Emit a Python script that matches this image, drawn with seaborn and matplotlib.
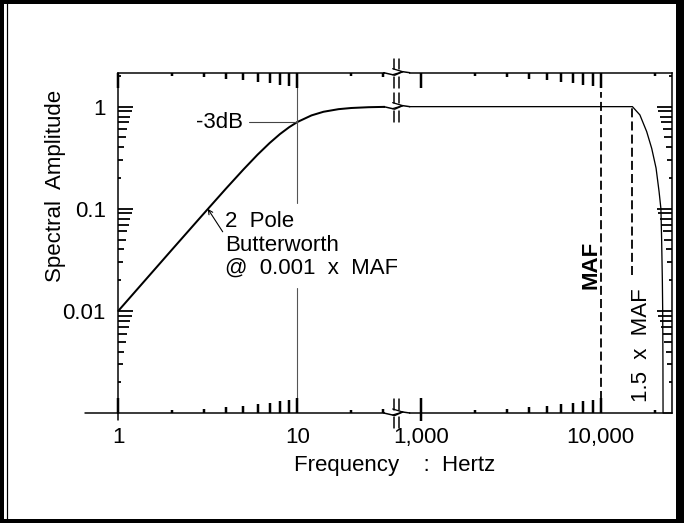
import numpy as np
import pandas as pd
import matplotlib
matplotlib.use("Agg")
import matplotlib.pyplot as plt
import seaborn as sns
from matplotlib.ticker import FixedLocator, FixedFormatter, NullLocator
from matplotlib.lines import Line2D
from matplotlib.patches import Rectangle
from matplotlib.transforms import IdentityTransform

# ---------------- data ----------------
low_freq = [1, 1.5, 2, 3, 4, 5, 6, 7, 8, 9, 10, 12, 14, 17, 20, 25, 30, 36]
low_amp = [0.01, 0.0225, 0.040, 0.0896, 0.158, 0.2425, 0.339, 0.44, 0.539,
           0.629, 0.707, 0.821, 0.891, 0.945, 0.970, 0.9875, 0.994, 0.997]
high_freq = [733, 1000, 5000, 10000, 15000, 16500, 18000, 19200, 20300,
             21100, 21600, 21800, 22000, 22100, 22170, 22200, 24800]
high_amp = [1.0, 1.0, 1.0, 1.0, 1.0, 0.83, 0.57, 0.39, 0.25,
            0.147, 0.1, 0.05, 0.02, 0.01, 0.003, 0.001, 0.001]

MAF = 10000
cutoff = 10
x_low_range = (1, 35.9)
x_high_range = (733, 24800)
y_range = (0.001, 2.15)

x_major_low = [1, 10]
x_major_low_labels = ["1", "10"]
x_minor_low = [2, 3, 4, 5, 6, 7, 8, 9, 20, 30]
x_major_high = [1000, 10000]
x_major_high_labels = ["1,000", "10,000"]
x_minor_high = [2000, 3000, 4000, 5000, 6000, 7000, 8000, 9000, 20000]
y_major = [0.01, 0.1, 1]
y_major_labels = ["0.01", "0.1", "1"]
y_minor = [k * 10.0 ** e for e in (-3, -2, -1, 0) for k in range(2, 10)
           if k * 10.0 ** e < 2.15]

# ---------------- figure ----------------
sns.set_theme(style="white")
plt.rcParams["font.family"] = ["Liberation Sans", "DejaVu Sans"]
DPI = 100
W, H = 684, 523
fig = plt.figure(figsize=(W / DPI, H / DPI), dpi=DPI)
PX = 72.0 / DPI  # points per pixel
ident = IdentityTransform()


def fx(px):
    return px / W


def fy(py_top):
    return 1 - py_top / H


ax_top, ax_bot = 72.7, 413.0
x_left, x_break, x_right = 118.3, 396.7, 671.7
AX_H = ax_bot - ax_top
axL = fig.add_axes([fx(x_left), fy(ax_bot), fx(x_break - x_left), AX_H / H])
axR = fig.add_axes([fx(x_break), fy(ax_bot), fx(x_right - x_break), AX_H / H])

low = pd.DataFrame({"freq": low_freq, "amp": low_amp})
high = pd.DataFrame({"freq": high_freq, "amp": high_amp})

for ax in (axL, axR):
    ax.set_xscale("log")
    ax.set_yscale("log")
    ax.set_facecolor("white")
    for s in ax.spines.values():
        s.set_color("black")
        s.set_linewidth(1.5 * PX)

sns.lineplot(data=low, x="freq", y="amp", ax=axL, color="black",
             linewidth=2.0 * PX, estimator=None, sort=False, clip_on=False)
sns.lineplot(data=high, x="freq", y="amp", ax=axR, color="black",
             linewidth=1.3 * PX, estimator=None, sort=False, clip_on=False)

axL.set_xlim(*x_low_range)
axR.set_xlim(*x_high_range)
axL.set_ylim(*y_range)
axR.set_ylim(*y_range)
axL.spines["right"].set_visible(False)
axR.spines["left"].set_visible(False)
for ax in (axL, axR):
    ax.set_xlabel("")
    ax.set_ylabel("")

FS = 16
MAJ_PX = 15.0
XTICK_PX = 2.5
YTICK_PX = 1.8


def mantissa(v):
    e = np.floor(np.log10(v) + 1e-9)
    return v / 10 ** e


for ax in (axL, axR):
    ax.tick_params(which="both", direction="in", length=0, labelsize=FS,
                   labelcolor="black", bottom=True, top=False)
    ax.tick_params(axis="x", which="major", pad=10)
    ax.xaxis.set_minor_locator(NullLocator())
    ax.yaxis.set_minor_locator(NullLocator())

axL.xaxis.set_major_locator(FixedLocator(x_major_low))
axL.xaxis.set_major_formatter(FixedFormatter(x_major_low_labels))
axR.xaxis.set_major_locator(FixedLocator(x_major_high))
axR.xaxis.set_major_formatter(FixedFormatter(x_major_high_labels))
axL.yaxis.set_major_locator(FixedLocator(y_major))
axL.yaxis.set_major_formatter(FixedFormatter(y_major_labels))
axL.tick_params(axis="y", left=True, right=False, labelleft=True, pad=9)
axR.yaxis.set_major_locator(NullLocator())
axR.tick_params(axis="y", left=False, right=False, labelleft=False)


def tick_len(v, major):
    return MAJ_PX if major else 1.5 * mantissa(v)


# tick marks: one segment per tick, positioned with the axes' own transforms
def draw_xticks(ax, majors, minors, below=()):
    locs = list(majors) + list(minors)
    tr = ax.get_xaxis_transform()
    for i, v in enumerate(locs):
        L = tick_len(v, i < len(majors)) / AX_H
        low_end = -8.0 / AX_H if v in below else 0.0
        ax.vlines([v, v], [low_end, 1.0 - L], [L, 1.0], transform=tr,
                  colors="black", linewidths=XTICK_PX * PX, clip_on=False,
                  zorder=5)


def draw_yticks(ax, majors, minors, side, width_px):
    locs = list(majors) + list(minors)
    tr = ax.get_yaxis_transform()
    for i, v in enumerate(locs):
        L = tick_len(v, i < len(majors)) / width_px
        a, b = (0.0, L) if side == "left" else (1.0 - L, 1.0)
        ax.add_line(Line2D([a, b], [v, v], transform=tr, color="black",
                           lw=YTICK_PX * PX, clip_on=False, zorder=5,
                           solid_capstyle="butt"))


draw_xticks(axL, x_major_low, x_minor_low)
draw_xticks(axR, x_major_high, x_minor_high, below=(1000,))
draw_yticks(axL, y_major, y_minor, "left", x_break - x_left)
draw_yticks(axR, y_major, y_minor, "right", x_right - x_break)
axL.set_xlim(*x_low_range)
axR.set_xlim(*x_high_range)
axL.set_ylim(*y_range)
axR.set_ylim(*y_range)

# extensions of axis lines
axL.plot([-0.12, 0], [0, 0], transform=axL.transAxes, color="black",
         lw=1.5 * PX, clip_on=False)
axL.plot([0, 0], [-0.02, 0], transform=axL.transAxes, color="black",
         lw=1.5 * PX, clip_on=False)

# -3 dB marker line and cutoff line
axL.plot([5.37, cutoff], [0.707, 0.707], color="#444444", lw=1.1 * PX)
axL.plot([cutoff, cutoff], [0.114, y_range[1]], color="#555555", lw=1.1 * PX)
axL.plot([cutoff, cutoff], [y_range[0], 0.0167], color="#555555", lw=1.1 * PX)
axL.text(4.95, 0.707, "-3dB", ha="right", va="center", fontsize=FS, color="black")

# Butterworth annotation
axL.annotate("", xy=(3.16, 0.1), xytext=(3.83, 0.0595),
             arrowprops=dict(arrowstyle="->", color="black", lw=1.1 * PX,
                             shrinkA=0, shrinkB=0, mutation_scale=8))
for txt, yy in (("2  Pole", 0.0758), ("Butterworth", 0.044), ("@  0.001  x  MAF", 0.0262)):
    axL.text(3.95, yy, txt, ha="left", va="center", fontsize=FS, color="black")

# MAF lines
axR.plot([MAF, MAF], [0.00133, 1.39], color="black", lw=1.8 * PX,
         linestyle=(0, (5.0, 2.3)))
axR.plot([1.5 * MAF, 1.5 * MAF], [0.0224, 1.0], color="black", lw=1.8 * PX,
         linestyle=(0, (5.0, 2.3)))
axR.text(8838, 0.0281, "MAF", rotation=90, ha="center", va="center",
         fontsize=FS, fontweight="bold", color="black")
axR.text(16750, 0.00461, "1.5  x  MAF", rotation=90, ha="center", va="center",
         fontsize=FS, color="black")

# axis titles
fig.text(fx(56), fy(186), "Spectral  Amplitude", rotation=90, ha="center",
         va="center", fontsize=FS, color="black")
fig.text(fx(395), fy(466), "Frequency    :  Hertz", ha="center", va="center",
         fontsize=FS, color="black")


# ---------------- break marks ----------------
def pline(xs, ys, lw=1.0, z=30):
    fig.add_artist(Line2D(xs, ys, transform=ident, color="black",
                          lw=lw * PX, zorder=z, clip_on=False))


def break_mark(xp, yp):
    fig.add_artist(Rectangle((xp - 12, yp - 2.5), 24, 5, transform=ident,
                             facecolor="white", edgecolor="none", zorder=25))
    pline([xp - 13, xp - 2, xp + 6], [yp, yp - 2.5, yp + 1], 1.5)
    pline([xp - 4, xp + 6, xp - 4], [yp + 4, yp + 1, yp - 2], 1.3)
    pline([xp + 6, xp + 13], [yp + 1, yp], 1.5)
    for dx in (-2.7, 2.7):
        pline([xp + dx, xp + dx], [yp + 3.5, yp + 14], 1.5)
        pline([xp + dx, xp + dx], [yp - 4, yp - 15], 1.5)


xb = x_break
break_mark(xb, H - ax_top)
break_mark(xb, H - ax_bot)
y_one = axL.transData.transform((1, 1))[1]
break_mark(xb, y_one)

# ---------------- frame ----------------
for (x0, y0, w, h) in ((0, 0, 4, H), (0, H - 4, W, 4), (0, 0, W, 4), (W - 8, 0, 8, H)):
    fig.add_artist(Rectangle((x0, y0), w, h, transform=ident, facecolor="black",
                             edgecolor="none", zorder=40))
pline([7, 7], [0, H], 1.2, z=40)

fig.savefig("out.png", dpi=DPI, facecolor="white")
